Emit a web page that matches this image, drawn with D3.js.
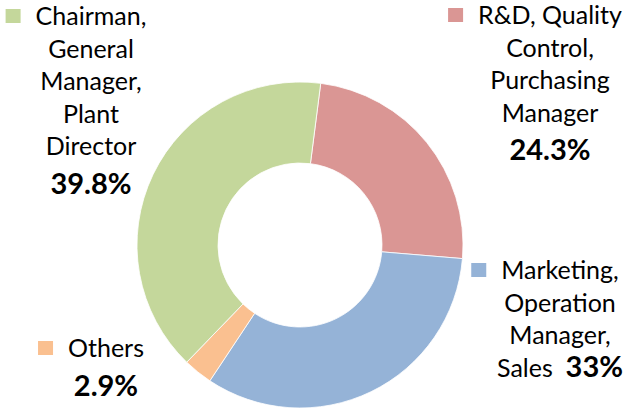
<!DOCTYPE html>
<html>
<head>
<meta charset="utf-8">
<script src="https://cdn.jsdelivr.net/npm/d3@7"></script>
<style>
  html, body { margin: 0; padding: 0; background: #fff; }
  svg { display: block; font-family: Lato, "Open Sans", sans-serif; }
</style>
</head>
<body>
<div id="chart"></div>
<script>
// slices, clockwise from the top
const categories = ["R&D, Quality Control, Purchasing Manager", "Marketing, Operation Manager, Sales", "Others", "Chairman, General Manager, Plant Director"];
const shares = [24.3, 33, 2.9, 39.8];
const labelLines = [
    ["R&D, Quality", "Control,", "Purchasing", "Manager"],
    ["Marketing,", "Operation", "Manager,", "Sales"],
    ["Others"],
    ["Chairman,", "General", "Manager,", "Plant", "Director"]
];
const valueInline = [false, true, false, false];

const colors = ["#DA9694", "#95B3D7", "#FAC090", "#C4D79B"];
// where each label block sits (centre x, first baseline)
const labelPos = [
    {x: 550, y: 24},
    {x: 560, y: 279},
    {x: 106, y: 357},
    {x: 91, y: 25}
];

const width = 623, height = 409;
const cx = 300, cy = 245;
const outerR = 163, innerR = 82;
const lineH = 32.5, valueGap = 38.5;
const startAngle = 7.3 * Math.PI / 180;

const data = categories.map((c, i) => ({name: c, value: shares[i], i: i}));

const svg = d3.select("#chart")
    .append("svg")
    .attr("width", width)
    .attr("height", height);

const pie = d3.pie()
    .sort(null)
    .value(d => d.value)
    .startAngle(startAngle)
    .endAngle(startAngle + 2 * Math.PI);

const arc = d3.arc()
    .innerRadius(innerR)
    .outerRadius(outerR);

svg.append("g")
    .attr("transform", `translate(${cx},${cy})`)
    .selectAll("path")
    .data(pie(data))
    .enter()
    .append("path")
    .attr("d", arc)
    .attr("fill", d => colors[d.data.i])
    .attr("stroke", "#fff")
    .attr("stroke-width", 0.8);

// labels
data.forEach((d, i) => {
    const p = labelPos[i];
    const lines = labelLines[i];
    const g = svg.append("g");
    let first = null;

    lines.forEach((ln, k) => {
        const t = g.append("text")
            .attr("x", p.x)
            .attr("y", p.y + k * lineH)
            .attr("text-anchor", "middle")
            .style("font-size", "25px")
            .style("fill", "#000");
        if (valueInline[i] && k === lines.length - 1) {
            t.append("tspan").text(ln + "\u00a0\u00a0");
            t.append("tspan")
                .style("font-weight", "bold")
                .style("font-size", "29px")
                .text(d.value + "%");
        } else {
            t.text(ln);
        }
        if (k === 0) first = t;
    });

    if (!valueInline[i]) {
        g.append("text")
            .attr("x", p.x)
            .attr("y", p.y + (lines.length - 1) * lineH + valueGap)
            .attr("text-anchor", "middle")
            .style("font-size", "29px")
            .style("font-weight", "bold")
            .text(d.value + "%");
    }

    const w = first.node().getComputedTextLength();
    g.append("rect")
        .attr("x", p.x - w / 2 - 15 - 15)
        .attr("y", p.y - 16)
        .attr("width", 15)
        .attr("height", 14)
        .attr("fill", colors[i]);
});
</script>
</body>
</html>
